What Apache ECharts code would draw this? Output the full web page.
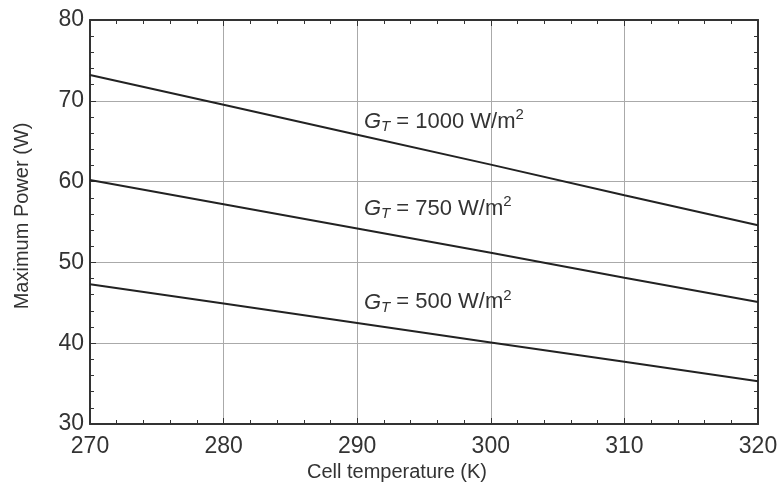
<!DOCTYPE html>
<html>
<head>
<meta charset="utf-8">
<script src="https://cdn.jsdelivr.net/npm/echarts@6/dist/echarts.min.js"></script>
<style>
  html, body { margin: 0; padding: 0; background: #fff; }
  #chart { width: 777px; height: 482px; }
</style>
</head>
<body>
<div id="chart"></div>
<script>
// Cell temperature (K)
var temps = [270, 280, 290, 300, 310, 320];
// Maximum power (W) at each irradiance
var p1000 = [73.2, 69.5, 65.8, 62.1, 58.3, 54.6];
var p750 = [60.2, 57.2, 54.2, 51.2, 48.1, 45.1];
var p500 = [47.3, 44.9, 42.5, 40.1, 37.7, 35.3];
var labelText = ['1000', '750', '500'];
var labelAt = [[290.5, 67.4], [290.5, 56.65], [290.5, 45.05]];

var ink = '#333';
var font = 'Liberation Sans, Arial, sans-serif';

function pairs(ys) {
  return temps.map(function(t, i) { return [t, ys[i]]; });
}

function line(ys, idx) {
  return {
    type: 'line', data: pairs(ys), symbol: 'none', silent: true,
    lineStyle: { color: '#222', width: 2 },
    markPoint: {
      symbol: 'circle', symbolSize: 0,
      data: [{ coord: labelAt[idx] }],
      label: {
        show: true, position: 'right', distance: 0,
        formatter: '{g|G}{s|T}{n| = ' + labelText[idx] + ' W/m}{p|2}',
        rich: {
          g: { fontSize: 22, fontStyle: 'italic', color: ink, fontFamily: font, lineHeight: 30, verticalAlign: 'middle' },
          s: { fontSize: 15, fontStyle: 'italic', color: ink, fontFamily: font, lineHeight: 30, verticalAlign: 'bottom', padding: [0, 0, 2, 0] },
          n: { fontSize: 22, color: ink, fontFamily: font, lineHeight: 30, verticalAlign: 'middle' },
          p: { fontSize: 15, color: ink, fontFamily: font, lineHeight: 30, verticalAlign: 'top', padding: [1, 0, 0, 0] }
        }
      }
    }
  };
}

var xBase = { type: 'value', min: 270, max: 320, interval: 10 };
var yBase = { type: 'value', min: 30, max: 80, interval: 10 };
var axLine = { show: true, onZero: false, lineStyle: { color: ink, width: 2 } };
var tick = { show: true, inside: true, length: 6, lineStyle: { color: ink, width: 1 } };
var minor = { show: true, splitNumber: 5, length: 4, lineStyle: { color: ink, width: 1 } };

var chart = echarts.init(document.getElementById('chart'));
chart.setOption({
  backgroundColor: '#fff',
  animation: false,
  grid: { left: 90, right: 19, top: 20, bottom: 58, outerBoundsMode: 'none', containLabel: false },
  xAxis: [
    Object.assign({}, xBase, {
      position: 'bottom',
      name: 'Cell temperature (K)', nameLocation: 'middle', nameGap: 38,
      nameTextStyle: { fontSize: 20, color: ink, fontFamily: font, padding: [0, 54, 0, 0] },
      axisLine: axLine, axisTick: tick, minorTick: minor,
      axisLabel: { fontSize: 23, color: ink, fontFamily: font, margin: 11 },
      splitLine: { show: true, lineStyle: { color: '#aaa', width: 1 } }
    }),
    Object.assign({}, xBase, {
      position: 'top',
      axisLine: axLine, axisTick: tick, minorTick: minor,
      axisLabel: { show: false }, splitLine: { show: false }
    })
  ],
  yAxis: [
    Object.assign({}, yBase, {
      position: 'left',
      name: 'Maximum Power (W)', nameLocation: 'middle', nameGap: 58,
      nameTextStyle: { fontSize: 20, color: ink, fontFamily: font, padding: [0, 0, 0, 12] },
      axisLine: axLine, axisTick: tick, minorTick: minor,
      axisLabel: { fontSize: 23, color: ink, fontFamily: font, margin: 6 },
      splitLine: { show: true, lineStyle: { color: '#aaa', width: 1 } }
    }),
    Object.assign({}, yBase, {
      position: 'right',
      axisLine: axLine, axisTick: tick, minorTick: minor,
      axisLabel: { show: false }, splitLine: { show: false }
    })
  ],
  series: [line(p1000, 0), line(p750, 1), line(p500, 2)]
});
</script>
</body>
</html>
